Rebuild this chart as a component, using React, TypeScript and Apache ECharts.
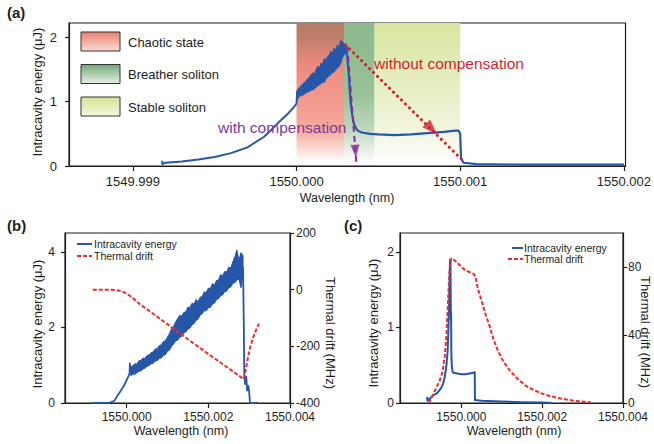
import React, { useEffect, useRef } from 'react';
import * as echarts from 'echarts';

const FONT = '"Liberation Sans", Arial, Helvetica, sans-serif';
const INK = '#1e1e1e';
const BLUE = '#2656a8';
const RED = '#ee2b2f';
const ARROW_RED = '#d21f30';
const PURPLE = '#8b2a9c';

// x values are in pm relative to 1550 nm (wavelength = 1550 + x/1000 nm)
const fmtWl = (v: number) => (1550 + v / 1000).toFixed(3);

// ---------- panel (a) ----------
const A_X_TICKS = [-1, 0, 1, 2];
const A_Y_TICKS = [0, 1, 2];
const aRise = [
  [-0.82, 0.08], [-0.82, 0.03], [-0.8, 0.05], [-0.7, 0.07], [-0.6, 0.1], [-0.5, 0.14],
  [-0.4, 0.2], [-0.3, 0.29], [-0.2, 0.45], [-0.15, 0.57], [-0.1, 0.7], [-0.05, 0.82],
  [-0.02, 0.9], [0, 0.97], [0.003, 1.1],
];
// [x, low, high] envelope of the chaotic (noisy) part
const aChaosBand = [
  [0.0, 1.0, 1.15], [0.01, 1.06, 1.2], [0.02, 1.08, 1.22], [0.03, 1.1, 1.25], [0.04, 1.1, 1.28],
  [0.05, 1.12, 1.3], [0.06, 1.14, 1.33], [0.07, 1.15, 1.36], [0.08, 1.16, 1.38], [0.09, 1.18, 1.42],
  [0.1, 1.18, 1.45], [0.11, 1.2, 1.42], [0.12, 1.22, 1.5], [0.13, 1.25, 1.55], [0.14, 1.26, 1.52],
  [0.15, 1.28, 1.6], [0.16, 1.3, 1.58], [0.17, 1.3, 1.67], [0.18, 1.35, 1.65], [0.19, 1.38, 1.7],
  [0.2, 1.4, 1.72], [0.21, 1.42, 1.78], [0.22, 1.45, 1.75], [0.23, 1.46, 1.83], [0.24, 1.5, 1.8],
  [0.25, 1.52, 1.88], [0.26, 1.55, 1.85], [0.27, 1.6, 1.95], [0.28, 1.68, 1.93], [0.29, 1.72, 1.9],
  [0.3, 1.75, 1.85],
];
const aTail = [
  [0.3, 1.85], [0.31, 1.7], [0.32, 1.4], [0.33, 1.0], [0.34, 0.8], [0.35, 0.66], [0.36, 0.6],
  [0.37, 0.56], [0.38, 0.54], [0.4, 0.52], [0.45, 0.5], [0.5, 0.49], [0.6, 0.48], [0.7, 0.49],
  [0.8, 0.51], [0.9, 0.53], [0.97, 0.55], [0.99, 0.55], [1.0, 0.5], [1.005, 0.12], [1.02, 0.05],
  [1.1, 0.03], [1.4, 0.02], [2.0, 0.02],
];
const aRegionNames = ['Chaotic state', 'Breather soliton', 'Stable soliton'];
const aRegionFrom = [0, 0.29, 0.477];
const aRegionTo = [0.29, 0.477, 1.0];
const aRedArrow = [[0.3, 1.88], [1.03, 0.05]];
const aRedHead = [[0.825, 0.58]];
const aPurpleArrow = [[0.31, 1.86], [0.366, 0.03]];
const aPurpleHead = [[0.36, 0.23]];

// ---------- panel (b) ----------
const B_X_TICKS = [0, 2, 4];
const B_Y_TICKS = [0, 2, 4];
const bRise = [
  [-0.83, 0], [-0.41, 0.01], [-0.3, 0.06], [-0.25, 0.15], [-0.16, 0.3], [-0.08, 0.43],
  [0.04, 0.7], [0.07, 0.78], [0.08, 1.05], [0.09, 0.85], [0.1, 0.8],
];
const bBand = [
  [0.1, 0.72, 0.95], [0.15, 0.76, 0.99], [0.2, 0.76, 1.04], [0.25, 0.8, 1.03], [0.3, 0.84, 1.12],
  [0.35, 0.85, 1.13], [0.4, 0.9, 1.19], [0.45, 0.92, 1.18], [0.5, 0.97, 1.26], [0.55, 0.99, 1.27],
  [0.6, 1.04, 1.34], [0.65, 1.05, 1.35], [0.7, 1.11, 1.43], [0.75, 1.12, 1.44], [0.8, 1.18, 1.52],
  [0.85, 1.19, 1.54], [0.9, 1.26, 1.63], [0.95, 1.28, 1.65], [1.0, 1.37, 1.75], [1.05, 1.4, 1.84],
  [1.1, 1.5, 1.97], [1.15, 1.56, 2.03], [1.2, 1.65, 2.15], [1.25, 1.66, 2.24], [1.3, 1.74, 2.32],
  [1.35, 1.76, 2.3], [1.4, 1.85, 2.4], [1.45, 1.88, 2.41], [1.5, 1.96, 2.54], [1.55, 1.98, 2.53],
  [1.6, 2.07, 2.64], [1.65, 2.1, 2.62], [1.7, 2.19, 2.74], [1.75, 2.22, 2.68], [1.8, 2.33, 2.8],
  [1.85, 2.36, 2.82], [1.9, 2.44, 2.94], [1.95, 2.44, 2.93], [2.0, 2.52, 3.04], [2.05, 2.53, 3.03],
  [2.1, 2.62, 3.16], [2.15, 2.64, 3.13], [2.2, 2.74, 3.24], [2.25, 2.76, 3.26], [2.3, 2.84, 3.4],
  [2.35, 2.86, 3.37], [2.4, 2.95, 3.48], [2.45, 2.96, 3.47], [2.5, 3.05, 3.6], [2.55, 3.07, 3.58],
  [2.6, 3.17, 3.74], [2.65, 3.18, 3.88], [2.7, 3.26, 4.05], [2.75, 3.28, 3.78], [2.8, 3.05, 3.98],
  [2.85, 3.35, 3.9],
];
const bTail = [
  [2.85, 3.6], [2.87, 2.0], [2.88, 0.75], [2.9, 0.5], [2.93, 0.7], [2.95, 0.33], [2.98, 0.45],
  [3.0, 0.3], [3.02, 0], [3.22, 0],
];
const bThermal = [
  [-0.83, 0], [-0.45, 0], [-0.3, -1], [-0.2, -3], [-0.1, -7], [0, -14], [0.1, -24], [0.2, -36],
  [0.33, -52], [0.6, -80], [1.0, -122], [1.5, -175], [2.0, -227], [2.5, -278], [2.87, -316],
  [2.92, -280], [2.97, -240], [3.03, -200], [3.1, -168], [3.17, -142], [3.24, -120],
];

// ---------- panel (c) ----------
const C_X_TICKS = [0, 2, 4];
const C_Y_TICKS = [0, 1, 2];
const C_Y2_TICKS = [0, 40, 80];
const cEnergy = [
  [-0.85, 0.08], [-0.84, 0.03], [-0.8, 0.05], [-0.7, 0.1], [-0.6, 0.13], [-0.5, 0.2], [-0.45, 0.26],
  [-0.41, 0.35], [-0.37, 0.5], [-0.34, 0.7], [-0.32, 1.0], [-0.3, 1.4], [-0.29, 1.7], [-0.28, 1.9],
  [-0.27, 1.85], [-0.26, 1.1], [-0.255, 1.2], [-0.25, 0.7], [-0.24, 0.5], [-0.22, 0.42], [-0.2, 0.4],
  [-0.1, 0.39], [0, 0.38], [0.1, 0.38], [0.2, 0.39], [0.3, 0.4], [0.33, 0.41], [0.335, 0.04],
  [0.5, 0.03], [1.0, 0.02], [1.5, 0.01], [2.0, 0.005], [2.25, 0],
];
const cThermal = [
  [-0.8, 0], [-0.7, 5], [-0.6, 10], [-0.54, 13], [-0.47, 18], [-0.41, 28], [-0.37, 40], [-0.34, 55],
  [-0.31, 70], [-0.28, 82], [-0.25, 85], [-0.2, 84.5], [-0.1, 82.5], [0, 80], [0.1, 78], [0.2, 77],
  [0.3, 76], [0.35, 74], [0.4, 68], [0.5, 60], [0.6, 52], [0.7, 45], [0.8, 37], [0.9, 31], [1.0, 26],
  [1.2, 19], [1.4, 14], [1.6, 10], [1.8, 7.5], [2.0, 5.5], [2.2, 4], [2.4, 3], [2.6, 2], [2.8, 1.3],
  [3.0, 0.8], [3.2, 0.5],
];

const LEGEND_NAMES = ['Intracavity energy', 'Thermal drift'];

const lg = (stops: [number, string][]) =>
  new echarts.graphic.LinearGradient(0, 0, 0, 1, stops.map(([offset, color]) => ({ offset, color })));

const regionFills = () => [
  lg([[0, '#b37c66'], [0.1, '#bf7e6a'], [0.3, '#ec8a7e'], [0.55, '#f29a8c'], [0.78, '#f5ab9e'], [0.92, '#fbe0da'], [1, '#ffffff']]),
  lg([[0, '#8cb98d'], [0.5, '#99c199'], [0.75, '#bcd6bb'], [0.92, '#e8f0e7'], [1, '#ffffff']]),
  lg([[0, '#d9e6a0'], [0.4, '#e4edbe'], [0.8, '#f2f6e0'], [1, '#ffffff']]),
];
const legendFills = () => [
  lg([[0, '#e8806f'], [1, '#fbdcd4']]),
  lg([[0, '#72a97a'], [1, '#e6efe4']]),
  lg([[0, '#d3e396'], [1, '#f4f8de']]),
];

const axisLineStyle = { color: INK, width: 1.2 };

function xAxisDef(grid: number, min: number, max: number, ticks: number[], fontSize: number, margin: number) {
  return {
    type: 'value', gridIndex: grid, min, max, position: 'bottom',
    axisLine: { show: true, onZero: false, lineStyle: axisLineStyle },
    axisTick: { show: true, length: 5, customValues: ticks, lineStyle: axisLineStyle },
    axisLabel: { customValues: ticks, formatter: fmtWl, fontSize, color: INK, fontFamily: FONT, margin },
    splitLine: { show: false },
  };
}
function yAxisDef(grid: number, min: number, max: number, ticks: number[], position: string, margin: number, fontSize: number) {
  return {
    type: 'value', gridIndex: grid, min, max, position,
    axisLine: { show: true, onZero: false, lineStyle: axisLineStyle },
    axisTick: { show: true, length: 4, customValues: ticks, lineStyle: axisLineStyle },
    axisLabel: { customValues: ticks, fontSize, color: INK, fontFamily: FONT, margin },
    splitLine: { show: false },
  };
}

function bandSeries(band: number[][], xi: number, yi: number) {
  return {
    type: 'custom', xAxisIndex: xi, yAxisIndex: yi, data: band,
    encode: { x: 0, y: [1, 2] }, z: 4, silent: true,
    renderItem: (params: any, api: any) => {
      if (params.dataIndex !== 0) return null;
      const pts: number[][] = [];
      for (const d of band) pts.push(api.coord([d[0], d[1]]));
      for (let i = band.length - 1; i >= 0; i--) pts.push(api.coord([band[i][0], band[i][2]]));
      return { type: 'polygon', shape: { points: pts }, style: { fill: BLUE, stroke: BLUE, lineWidth: 1 } };
    },
  };
}

function lineSeries(data: number[][], xi: number, yi: number, color: string, width: number, type: any = 'solid', z = 5, cap = 'butt') {
  return {
    type: 'line', xAxisIndex: xi, yAxisIndex: yi, data, showSymbol: false, symbol: 'none',
    lineStyle: { color, width, type, join: 'round', cap }, z, silent: true,
  };
}

const text = (t: string, x: number, y: number, size: number, opts: any = {}) => ({
  type: 'text', x, y, rotation: opts.rotation || 0, z: 100,
  style: {
    text: t, fontSize: size, fontFamily: FONT, fill: opts.fill || INK, fontWeight: opts.bold ? 'bold' : 'normal',
    textAlign: opts.align || 'center', textVerticalAlign: 'middle', align: opts.align || 'center', verticalAlign: 'middle',
  },
});

export default function App() {
  const ref = useRef<HTMLDivElement>(null);
  useEffect(() => {
    document.body.style.margin = '0';
    if (!ref.current) return;
    const chart = echarts.init(ref.current, undefined, { renderer: 'svg' });
    const rf = regionFills();
    const lf = legendFills();

    const graphics: any[] = [
      text('(a)', 7, 12, 15, { bold: true, align: 'left' }),
      text('(b)', 7, 225, 15, { bold: true, align: 'left' }),
      text('(c)', 344, 225, 15, { bold: true, align: 'left' }),
      text('Intracavity energy (μJ)', 37, 92, 13, { rotation: Math.PI / 2 }),
      text('Wavelength (nm)', 347, 198, 12.5),
      text('Intracavity energy (μJ)', 37, 324, 13, { rotation: Math.PI / 2 }),
      text('Wavelength (nm)', 181, 431, 12.5),
      text('Thermal drift (MHz)', 330, 333, 13, { rotation: -Math.PI / 2 }),
      text('Intracavity energy (μJ)', 373, 323, 13, { rotation: Math.PI / 2 }),
      text('Wavelength (nm)', 514, 431, 12.5),
      text('Thermal drift (MHz)', 645, 332, 13, { rotation: -Math.PI / 2 }),
      text('without compensation', 374, 63, 15.5, { align: 'left', fill: ARROW_RED }),
      text('with compensation', 218, 127, 15.5, { align: 'left', fill: '#7d3a9e' }),
    ];
    aRegionNames.forEach((name, i) => {
      const y = 32 + i * 32.5;
      graphics.push({ type: 'rect', shape: { x: 81, y, width: 39, height: 19 }, style: { fill: lf[i], stroke: '#333', lineWidth: 1 }, z: 100 });
      graphics.push(text(name, 128, y + 10, 13, { align: 'left' }));
    });
    const legendRows = [
      { x0: 77, x1: 92, tx: 94, y: 244 },
      { x0: 77, x1: 92, tx: 94, y: 256 },
      { x0: 512, x1: 523, tx: 524, y: 248 },
      { x0: 508, x1: 523, tx: 524, y: 259 },
    ];
    legendRows.forEach((r, i) => {
      const isRed = i % 2 === 1;
      graphics.push({
        type: 'line', shape: { x1: r.x0, y1: r.y, x2: r.x1, y2: r.y }, z: 100,
        style: { stroke: isRed ? RED : BLUE, lineWidth: 2, lineDash: isRed ? [4, 2] : null },
      });
      graphics.push(text(LEGEND_NAMES[i % 2], r.tx, r.y, 10.5, { align: 'left' }));
    });

    const option: any = {
      animation: false,
      backgroundColor: '#ffffff',
      textStyle: { fontFamily: FONT },
      grid: [
        { left: 69, top: 23, width: 557, height: 143, show: true, borderColor: INK, borderWidth: 1.2 },
        { left: 65, top: 233, width: 225, height: 170, show: true, borderColor: INK, borderWidth: 1.2 },
        { left: 400, top: 233, width: 223, height: 170, show: true, borderColor: INK, borderWidth: 1.2 },
      ],
      xAxis: [
        xAxisDef(0, -1.39, 2.01, A_X_TICKS, 13, 9),
        xAxisDef(1, -1.51, 4, B_X_TICKS, 12, 8),
        xAxisDef(2, -1.52, 4, C_X_TICKS, 12, 8),
      ],
      yAxis: [
        yAxisDef(0, 0, 2.22, A_Y_TICKS, 'left', 12, 13),
        yAxisDef(1, 0, 4.5, B_Y_TICKS, 'left', 10, 12),
        yAxisDef(1, -400, 200, [-400, -200, 0, 200], 'right', 6, 12),
        yAxisDef(2, 0, 2.25, C_Y_TICKS, 'left', 6, 12),
        yAxisDef(2, 0, 100, C_Y2_TICKS, 'right', 5, 12),
      ],
      series: [
        {
          type: 'line', xAxisIndex: 0, yAxisIndex: 0, data: [[-5, -5]], showSymbol: false, z: 1, silent: true,
          markArea: {
            silent: true,
            data: aRegionNames.map((_, i) => [
              { xAxis: aRegionFrom[i], yAxis: 0.06, itemStyle: { color: rf[i] } },
              { xAxis: aRegionTo[i], yAxis: 2.22 },
            ]),
          },
        },
        lineSeries(aRise, 0, 0, BLUE, 2),
        bandSeries(aChaosBand, 0, 0),
        lineSeries(aTail, 0, 0, BLUE, 2.2),
        lineSeries(aRedArrow, 0, 0, ARROW_RED, 3, [0.1, 5.5], 6, 'round'),
        { type: 'scatter', xAxisIndex: 0, yAxisIndex: 0, data: aRedHead, symbol: 'triangle', symbolSize: [11, 15], symbolRotate: 225, itemStyle: { color: ARROW_RED }, z: 7, silent: true },
        lineSeries(aPurpleArrow, 0, 0, PURPLE, 2, [6, 4], 6),
        { type: 'scatter', xAxisIndex: 0, yAxisIndex: 0, data: aPurpleHead, symbol: 'triangle', symbolSize: [9, 13], symbolRotate: 184, itemStyle: { color: PURPLE }, z: 7, silent: true },

        lineSeries(bRise, 1, 1, BLUE, 1.8),
        bandSeries(bBand, 1, 1),
        lineSeries(bTail, 1, 1, BLUE, 1.8),
        lineSeries(bThermal, 1, 2, RED, 2, [4, 2], 6),

        lineSeries(cEnergy, 2, 3, BLUE, 2),
        lineSeries(cThermal, 2, 4, RED, 2, [4, 2], 6),
      ],
      graphic: graphics,
    };
    chart.setOption(option);
    return () => chart.dispose();
  }, []);
  return <div ref={ref} style={{ width: 654, height: 444 }} />;
}
